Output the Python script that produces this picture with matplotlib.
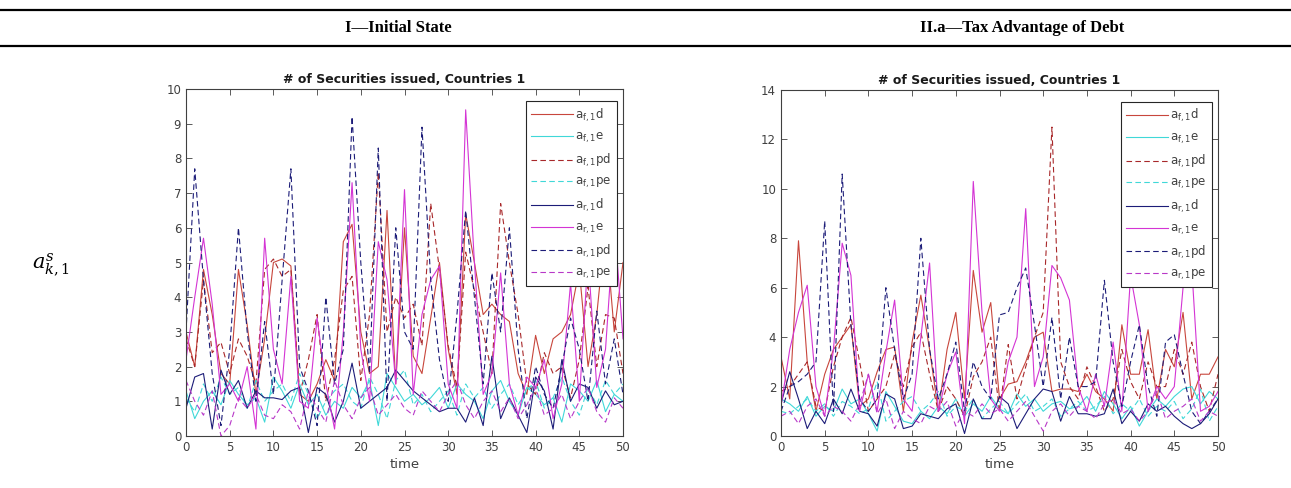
import matplotlib

matplotlib.use("Agg")
import matplotlib.pyplot as plt  # noqa: E402
from matplotlib.lines import Line2D  # noqa: E402

TIME = list(range(51))

PANEL_TITLES = ["I\u2014Initial State", "II.a\u2014Tax Advantage of Debt"]
SERIES = ["af_d", "af_e", "af_pd", "af_pe", "ar_d", "ar_e", "ar_pd", "ar_pe"]
LABELS = [
    r"a$_{\mathregular{f,1}}$d", r"a$_{\mathregular{f,1}}$e",
    r"a$_{\mathregular{f,1}}$pd", r"a$_{\mathregular{f,1}}$pe",
    r"a$_{\mathregular{r,1}}$d", r"a$_{\mathregular{r,1}}$e",
    r"a$_{\mathregular{r,1}}$pd", r"a$_{\mathregular{r,1}}$pe",
]

# --- I: initial state ---
init_af_d = [3.0, 2.0, 4.8, 3.5, 1.8, 1.5, 4.8, 3.2, 1.2, 2.8, 5.0, 5.1, 4.9, 1.2, 1.0, 1.5, 2.2,
             1.6, 5.6, 6.1, 3.0, 1.8, 2.0, 6.5, 1.5, 6.0, 2.3, 1.8, 3.4, 5.0, 2.5, 1.2, 6.4, 5.0,
             3.5, 3.8, 3.5, 3.3, 1.8, 1.2, 2.9, 1.8, 2.8, 3.0, 3.5, 4.8, 2.0, 3.5, 6.0, 3.0, 5.0]
init_af_e = [1.3, 0.5, 1.0, 1.3, 0.9, 1.6, 1.2, 0.9, 1.1, 0.4, 1.7, 1.3, 0.8, 1.5, 0.9, 1.2, 0.6,
             1.0, 0.8, 1.4, 1.1, 1.6, 0.3, 1.8, 1.4, 1.0, 1.2, 0.9, 1.1, 1.4, 0.8, 1.5, 1.2, 1.0,
             0.5, 1.3, 1.6, 1.0, 0.6, 1.4, 1.2, 0.9, 1.1, 0.4, 1.5, 1.3, 1.0, 1.6, 0.7, 1.2, 1.0]
init_af_pd = [2.8, 2.0, 4.5, 2.4, 2.7, 1.8, 2.8, 2.3, 1.5, 4.8, 5.1, 4.6, 4.8, 1.2, 2.2, 3.5, 1.0,
              2.2, 4.2, 4.6, 1.6, 3.5, 7.6, 3.0, 4.0, 3.4, 3.8, 2.6, 6.7, 4.8, 2.6, 1.4, 5.3, 4.2,
              3.0, 1.8, 6.7, 5.0, 3.5, 1.5, 1.2, 2.4, 1.8, 2.0, 1.1, 2.2, 4.3, 2.0, 3.5, 3.4, 1.8]
init_af_pe = [1.1, 0.7, 1.5, 1.0, 1.7, 1.2, 1.4, 0.8, 1.6, 1.0, 1.3, 1.5, 1.0, 1.8, 1.2, 0.5, 1.0,
              1.3, 1.5, 1.0, 0.8, 1.7, 1.2, 0.5, 1.6, 1.9, 0.9, 1.2, 0.7, 1.0, 1.3, 0.6, 1.5, 1.1,
              1.4, 0.8, 1.2, 1.5, 0.9, 1.3, 1.6, 0.8, 1.1, 1.7, 1.0, 0.6, 1.4, 0.9, 1.6, 1.2, 1.5]
init_ar_d = [0.8, 1.7, 1.8, 0.2, 1.9, 1.2, 1.6, 0.8, 1.3, 1.1, 1.1, 1.05, 1.3, 1.4, 0.1, 1.4, 1.2,
             0.4, 1.0, 2.1, 0.8, 1.0, 1.2, 1.4, 1.9, 1.6, 1.3, 1.1, 0.9, 0.7, 0.8, 0.8, 0.4, 1.1,
             0.3, 2.3, 0.5, 1.1, 0.6, 0.1, 1.7, 1.3, 0.2, 2.2, 1.0, 1.5, 1.4, 0.8, 1.3, 0.9, 1.0]
init_ar_e = [2.2, 4.0, 5.7, 3.8, 1.2, 1.5, 1.0, 2.0, 0.2, 5.7, 2.5, 1.5, 4.6, 1.0, 0.8, 3.4, 1.5,
             0.2, 3.0, 7.3, 2.5, 1.0, 5.6, 4.5, 1.5, 7.1, 1.2, 3.5, 4.5, 4.9, 1.5, 0.8, 9.4, 5.0,
             1.2, 1.8, 4.7, 1.5, 0.6, 1.7, 1.4, 2.2, 0.5, 1.5, 4.4, 1.0, 5.2, 1.4, 2.5, 6.2, 2.8]
init_ar_pd = [3.0, 7.7, 4.5, 1.8, 0.3, 2.5, 6.0, 3.0, 1.0, 3.3, 1.2, 4.5, 7.7, 2.0, 1.3, 0.3, 4.0,
              1.5, 2.5, 9.2, 5.0, 1.8, 8.3, 1.0, 6.0, 3.0, 2.5, 8.9, 4.5, 2.2, 1.0, 3.5, 6.5, 4.0,
              1.5, 4.7, 3.0, 6.0, 2.5, 0.5, 2.0, 1.2, 0.8, 2.0, 3.4, 2.5, 1.0, 3.6, 1.5, 2.8, 1.2]
init_ar_pe = [1.6, 1.0, 0.6, 1.3, 0.0, 0.3, 1.1, 0.8, 1.2, 0.6, 0.5, 0.9, 0.7, 0.2, 1.3, 0.8, 0.4,
              1.6, 0.9, 0.5, 1.1, 1.4, 0.6, 0.9, 1.2, 0.8, 0.6, 1.3, 1.0, 0.7, 1.2, 1.6, 0.9, 0.5,
              1.0, 1.3, 0.7, 1.1, 0.5, 0.9, 1.4, 0.6, 0.8, 1.2, 0.5, 1.0, 1.4, 0.7, 0.4, 1.1, 0.8]

# --- II.a: tax advantage of debt ---
tax_af_d = [3.2, 1.5, 7.9, 3.0, 1.0, 2.5, 3.5, 4.0, 4.5, 1.2, 1.5, 2.6, 3.5, 3.6, 1.0, 3.8, 5.7,
            3.5, 1.0, 3.5, 5.0, 1.5, 6.7, 4.2, 5.4, 1.5, 2.1, 2.2, 3.0, 4.0, 4.2, 1.8, 1.9, 1.9,
            1.8, 2.5, 1.8, 1.5, 1.0, 4.5, 2.5, 2.5, 4.3, 1.5, 3.5, 2.8, 5.0, 1.5, 2.5, 2.5, 3.2]
tax_af_e = [1.5, 1.3, 1.0, 1.6, 0.8, 1.2, 1.0, 1.9, 1.3, 1.5, 0.9, 0.2, 1.8, 1.2, 0.6, 0.5, 1.0,
            0.7, 1.2, 0.9, 1.5, 0.8, 1.3, 1.0, 1.6, 1.1, 0.9, 1.7, 1.2, 1.5, 1.0, 1.3, 1.4, 1.1,
            1.2, 1.6, 1.0, 1.8, 1.3, 0.7, 1.2, 0.4, 1.0, 1.5, 1.2, 1.6, 1.9, 2.0, 1.3, 1.8, 1.5]
tax_af_pd = [1.8, 2.0, 2.5, 3.0, 1.2, 1.0, 2.8, 4.0, 4.8, 3.0, 1.0, 1.5, 2.0, 3.3, 2.0, 3.6, 4.2,
             2.5, 1.0, 2.0, 1.5, 0.8, 2.4, 3.0, 4.0, 1.0, 3.7, 1.5, 2.8, 4.0, 5.0, 12.5, 3.0, 2.0,
             1.5, 2.8, 2.0, 1.0, 1.5, 3.5, 2.2, 1.5, 3.0, 2.0, 2.0, 3.5, 2.5, 3.8, 2.0, 1.0, 2.5]
tax_af_pe = [1.0, 0.9, 1.2, 1.5, 1.0, 1.3, 0.8, 1.4, 1.2, 0.9, 1.1, 2.2, 0.6, 1.0, 1.4, 1.6, 1.0,
             1.3, 1.8, 0.8, 1.2, 1.0, 1.5, 0.7, 1.1, 1.4, 0.9, 1.3, 1.7, 1.0, 1.2, 1.5, 0.8, 1.1,
             1.4, 1.0, 1.2, 1.6, 0.9, 1.3, 1.0, 1.5, 0.8, 1.2, 1.0, 1.4, 0.7, 1.1, 1.9, 0.6, 1.2]
tax_ar_d = [1.3, 2.6, 1.5, 0.3, 1.0, 0.5, 1.5, 0.9, 1.9, 1.0, 0.9, 0.4, 1.7, 1.5, 0.3, 0.4, 0.9,
            0.8, 0.7, 1.1, 1.3, 0.1, 1.5, 0.7, 0.7, 1.6, 1.3, 0.3, 0.9, 1.5, 1.9, 1.8, 0.6, 1.6,
            0.9, 0.9, 0.8, 0.9, 1.9, 0.5, 1.0, 0.6, 1.3, 1.0, 1.2, 0.8, 0.5, 0.3, 0.5, 0.9, 1.5]
tax_ar_e = [1.2, 3.5, 5.0, 6.1, 2.0, 0.8, 3.5, 7.8, 6.5, 1.0, 2.5, 1.0, 3.4, 5.5, 1.5, 1.0, 4.0,
            7.0, 1.0, 2.5, 3.4, 0.5, 10.3, 5.0, 1.5, 1.0, 3.0, 4.0, 9.2, 2.0, 3.2, 6.9, 6.4, 5.5,
            2.0, 1.0, 2.5, 1.2, 3.8, 1.0, 6.5, 4.5, 1.0, 2.0, 1.5, 2.0, 6.0, 6.8, 1.0, 1.2, 1.8]
tax_ar_pd = [1.0, 2.0, 2.2, 2.5, 3.0, 8.7, 1.0, 10.6, 4.5, 1.5, 1.0, 1.5, 6.0, 3.5, 1.5, 2.5, 8.0,
             3.5, 1.5, 2.5, 3.8, 1.0, 3.0, 2.0, 1.5, 4.9, 5.0, 6.0, 6.8, 4.5, 2.0, 4.8, 1.5, 4.0,
             2.0, 2.0, 2.2, 6.3, 3.0, 1.2, 3.0, 4.5, 2.0, 0.8, 3.8, 4.1, 2.5, 1.0, 0.5, 1.0, 1.5]
tax_ar_pe = [0.8, 1.0, 0.5, 1.2, 1.5, 0.8, 1.2, 1.0, 0.6, 1.3, 2.5, 0.9, 1.5, 0.3, 1.0, 0.7, 0.5,
             1.2, 1.0, 1.4, 0.4, 1.0, 0.8, 1.3, 0.9, 1.1, 0.6, 1.0, 1.4, 0.8, 0.2, 1.0, 1.3, 0.8,
             1.2, 1.0, 0.7, 1.3, 1.5, 0.9, 1.1, 0.6, 1.0, 1.8, 0.7, 1.0, 1.2, 1.5, 0.6, 1.0, 0.8]

PANELS = [
    [init_af_d, init_af_e, init_af_pd, init_af_pe, init_ar_d, init_ar_e, init_ar_pd, init_ar_pe],
    [tax_af_d, tax_af_e, tax_af_pd, tax_af_pe, tax_ar_d, tax_ar_e, tax_ar_pd, tax_ar_pe],
]
YLIMS = [(0, 10), (0, 14)]
YSTEPS = [1, 2]

COLORS = ["#c8463c", "#40d8d8", "#a8282a", "#40d8d8", "#1c1c78", "#d434d4", "#1c1c78", "#b838c8"]
DASHED = [False, False, True, True, False, False, True, True]

AX_GRAY = "#404040"

fig = plt.figure(figsize=(12.91, 4.88), dpi=100)

# table-style header rules and column titles
fig.add_artist(Line2D([0.0, 1.0], [1 - 10 / 488] * 2, color="black", lw=1.6))
fig.add_artist(Line2D([0.0, 1.0], [1 - 46 / 488] * 2, color="black", lw=1.6))
for x, t in zip([398 / 1291, 1022 / 1291], PANEL_TITLES):
    fig.text(x, 1 - 28 / 488, t, ha="center", va="center", fontsize=12,
             fontweight="bold", family="Liberation Serif")

fig.text(32 / 1291, 1 - 265 / 488, r"$a^{s}_{k,1}$", ha="left", va="center",
         fontsize=15, math_fontfamily="dejavuserif")

axes_pos = [
    [186 / 1291, 1 - 436 / 488, 437 / 1291, 347 / 488],
    [781 / 1291, 1 - 436 / 488, 437 / 1291, 346 / 488],
]

for pos, data, ylim, ystep in zip(axes_pos, PANELS, YLIMS, YSTEPS):
    ax = fig.add_axes(pos)
    for vals, c, dashed, lab in zip(data, COLORS, DASHED, LABELS):
        ls = (0, (5, 3)) if dashed else "-"
        ax.plot(TIME, vals, color=c, lw=0.8, ls=ls, label=lab)
    ax.set_xlim(0, 50)
    ax.set_ylim(*ylim)
    ax.set_xticks(range(0, 51, 5))
    ax.set_yticks(range(ylim[0], ylim[1] + 1, ystep))
    ax.tick_params(direction="in", top=True, right=True, length=4, width=0.6,
                   labelsize=8.5, colors=AX_GRAY, labelcolor=AX_GRAY)
    for sp in ax.spines.values():
        sp.set_color(AX_GRAY)
        sp.set_linewidth(0.8)
    ax.set_xlabel("time", fontsize=9.5, color=AX_GRAY, labelpad=3)
    ax.set_title("# of Securities issued, Countries 1", fontsize=9,
                 fontweight="bold", color="#1a1a1a", pad=4)
    leg = ax.legend(loc="upper right", bbox_to_anchor=(0.986, 0.966), fontsize=8.5,
                    handlelength=3.5, handletextpad=0.2, labelspacing=0.55,
                    borderpad=0.45, fancybox=False, framealpha=1, borderaxespad=0)
    leg.get_frame().set_edgecolor("#262626")
    leg.get_frame().set_linewidth(0.8)
    for txt in leg.get_texts():
        txt.set_color(AX_GRAY)

fig.savefig("out.png", dpi=100)
